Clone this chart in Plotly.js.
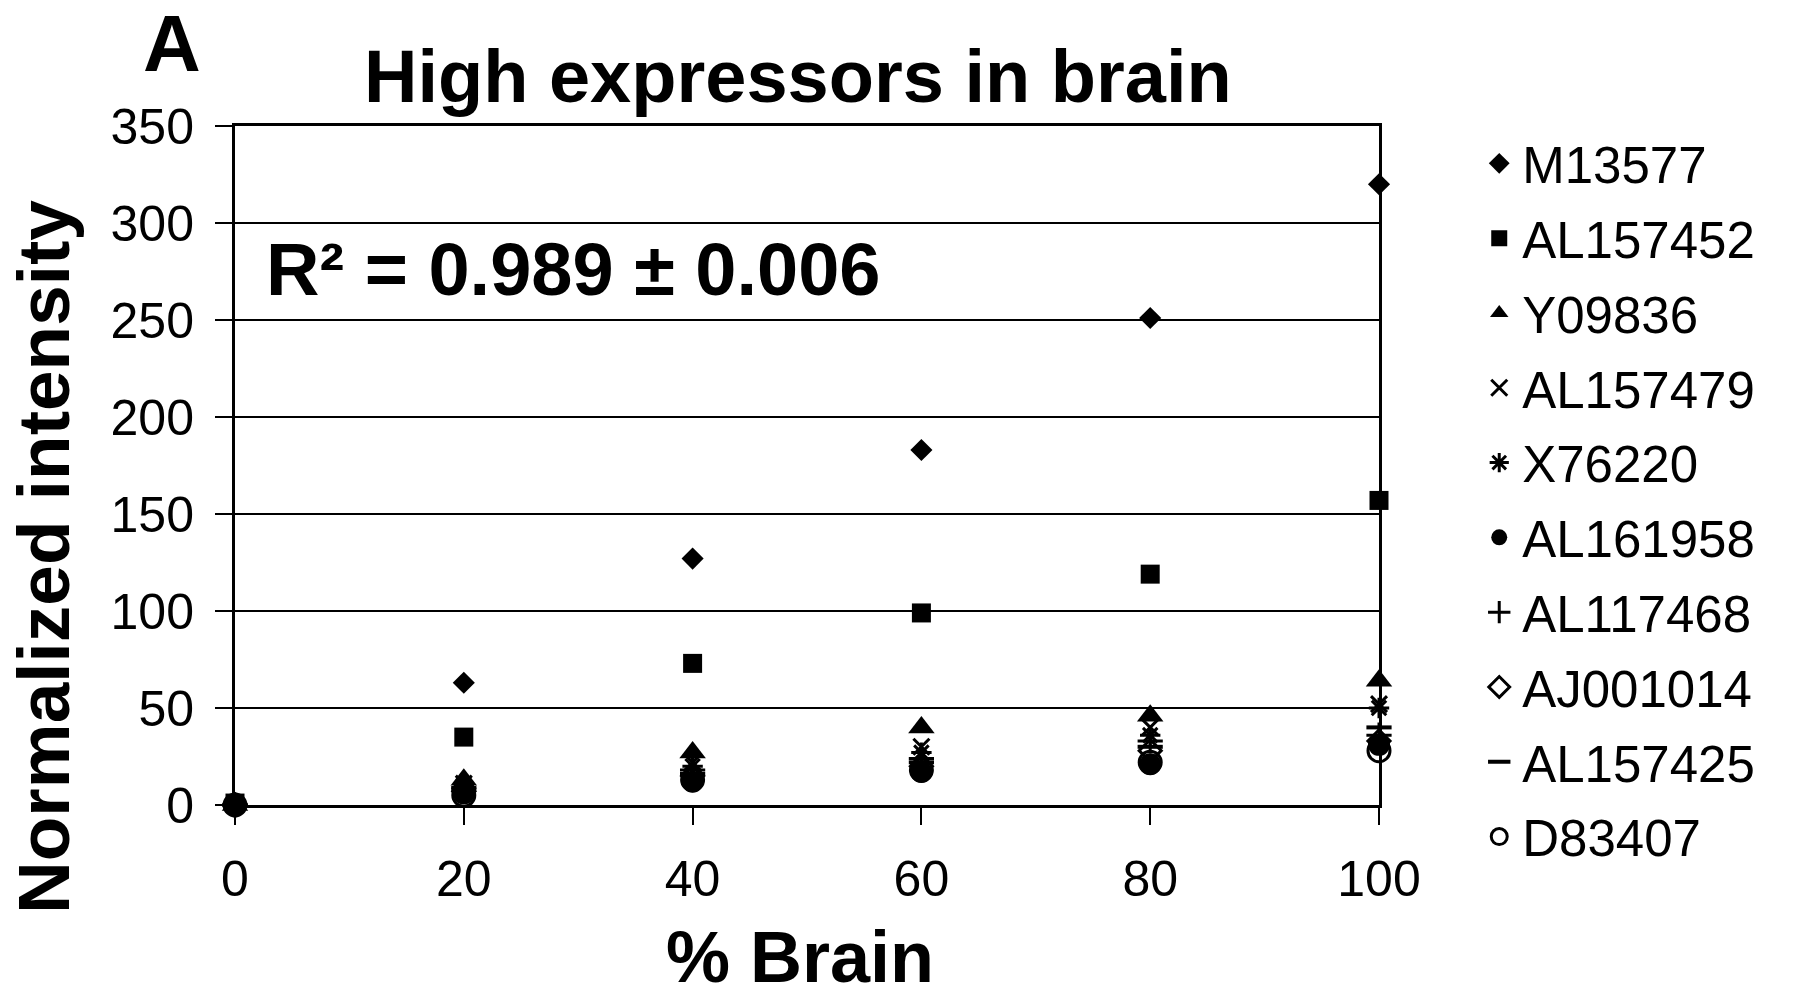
<!DOCTYPE html>
<html>
<head>
<meta charset="utf-8">
<script src="https://cdn.plot.ly/plotly-3.0.1.min.js"></script>
<style>
  html, body { margin: 0; padding: 0; background: #ffffff; }
  #chart { width: 1800px; height: 997px; }
</style>
</head>
<body>
<div id="chart"></div>
<script>
// Percent of brain RNA in the mixture
const brainPercent = [0, 20, 40, 60, 80, 100];

// Normalized intensity for each gene across the dilution series
const M13577   = [1, 63, 127, 183, 251, 320];
const AL157452 = [1, 35, 73, 99, 119, 157];
const Y09836   = [0, 13, 27, 40, 46, 64];
const AL157479 = [0, 11, 22, 30, 40, 52];
const X76220   = [0, 10, 20, 27, 36, 50];
const AL161958 = [0, 6, 12, 17, 21, 31];
const AL117468 = [0, 9, 18, 24, 33, 36];
const AJ001014 = [0, 7, 15, 20, 28, 33];
const AL157425 = [0, 8, 16, 22, 30, 40];
const D83407   = [0, 5, 13, 18, 22, 28];

const geneNames = ['M13577', 'AL157452', 'Y09836', 'AL157479', 'X76220',
                   'AL161958', 'AL117468', 'AJ001014', 'AL157425', 'D83407'];
const geneValues = [M13577, AL157452, Y09836, AL157479, X76220,
                    AL161958, AL117468, AJ001014, AL157425, D83407];

const yTicks = [0, 50, 100, 150, 200, 250, 300, 350];
const xTicks = [0, 20, 40, 60, 80, 100];

// Marker style per gene
const markerStyles = [
  { symbol: 'diamond', size: 17 },
  { symbol: 'square', size: 19 },
  { symbol: 'triangle-up', size: 23 },
  { symbol: 'x-thin-open', size: 16, line: { width: 3, color: '#000' } },
  { symbol: 'asterisk-open', size: 17, line: { width: 3, color: '#000' } },
  { symbol: 'circle', size: 22 },
  { symbol: 'cross-thin-open', size: 18, line: { width: 3, color: '#000' } },
  { symbol: 'diamond-open', size: 17, line: { width: 3, color: '#000' } },
  { symbol: 'line-ew-open', size: 18, line: { width: 4, color: '#000' } },
  { symbol: 'circle-open', size: 22, line: { width: 3, color: '#000' } }
];

const FONT = 'Liberation Sans, Arial, Helvetica, sans-serif';

const traces = geneNames.map((name, i) => ({
  type: 'scatter',
  mode: 'markers',
  name: name,
  legendgroup: name,
  x: brainPercent,
  y: geneValues[i],
  cliponaxis: false,
  marker: Object.assign({ color: '#000' }, markerStyles[i])
}));

const layout = {
  width: 1800,
  height: 997,
  paper_bgcolor: '#ffffff',
  plot_bgcolor: '#ffffff',
  margin: { l: 235, r: 421, t: 126, b: 192, autoexpand: false },
  font: { family: FONT, color: '#000', size: 50 },
  title: {
    text: '<b>High expressors in brain</b>',
    font: { family: FONT, size: 74, color: '#000' },
    xref: 'paper', x: 0.492, xanchor: 'center',
    yref: 'container', y: 0.924, yanchor: 'middle'
  },
  xaxis: {
    range: [0, 100],
    tickvals: xTicks,
    ticktext: xTicks.map(String),
    ticks: 'outside', ticklen: 17, tickwidth: 2, tickcolor: '#000',
    ticklabelstandoff: 11,
    showgrid: false, zeroline: false,
    showline: true, linecolor: '#000', linewidth: 3, mirror: true,
    tickfont: { family: FONT, size: 50, color: '#000' }
  },
  yaxis: {
    range: [0, 350],
    tickvals: yTicks,
    ticktext: yTicks.map(String),
    ticks: 'outside', ticklen: 17, tickwidth: 2, tickcolor: '#000',
    ticklabelstandoff: 11,
    showgrid: true, gridcolor: '#000', gridwidth: 2,
    zeroline: false,
    showline: true, linecolor: '#000', linewidth: 3, mirror: true,
    tickfont: { family: FONT, size: 50, color: '#000' }
  },
  legend: {
    x: 1.085, xanchor: 'left',
    y: 1.0034, yanchor: 'top',
    maxheight: 900,
    font: { family: FONT, size: 51, color: '#000' },
    tracegroupgap: 5.5,
    itemwidth: 36,
    bgcolor: 'rgba(0,0,0,0)'
  },
  annotations: [
    {
      text: '<b>A</b>', xref: 'paper', yref: 'paper',
      x: -0.055, y: 1.121, xanchor: 'center', yanchor: 'middle',
      showarrow: false, font: { family: FONT, size: 80, color: '#000' }
    },
    {
      text: '<b>R² = 0.989 ± 0.006</b>', xref: 'paper', yref: 'paper',
      x: 0.025, y: 0.788, xanchor: 'left', yanchor: 'middle',
      showarrow: false, font: { family: FONT, size: 74, color: '#000' }
    },
    {
      text: '<b>Normalized intensity</b>', xref: 'paper', yref: 'paper',
      x: -0.168, y: 0.365, xanchor: 'center', yanchor: 'middle',
      textangle: -90,
      showarrow: false, font: { family: FONT, size: 73, color: '#000' }
    },
    {
      text: '<b>% Brain</b>', xref: 'paper', yref: 'paper',
      x: 0.494, y: -0.224, xanchor: 'center', yanchor: 'middle',
      showarrow: false, font: { family: FONT, size: 72, color: '#000' }
    }
  ]
};

Plotly.newPlot('chart', traces, layout, { displayModeBar: false, staticPlot: true });
</script>
</body>
</html>
